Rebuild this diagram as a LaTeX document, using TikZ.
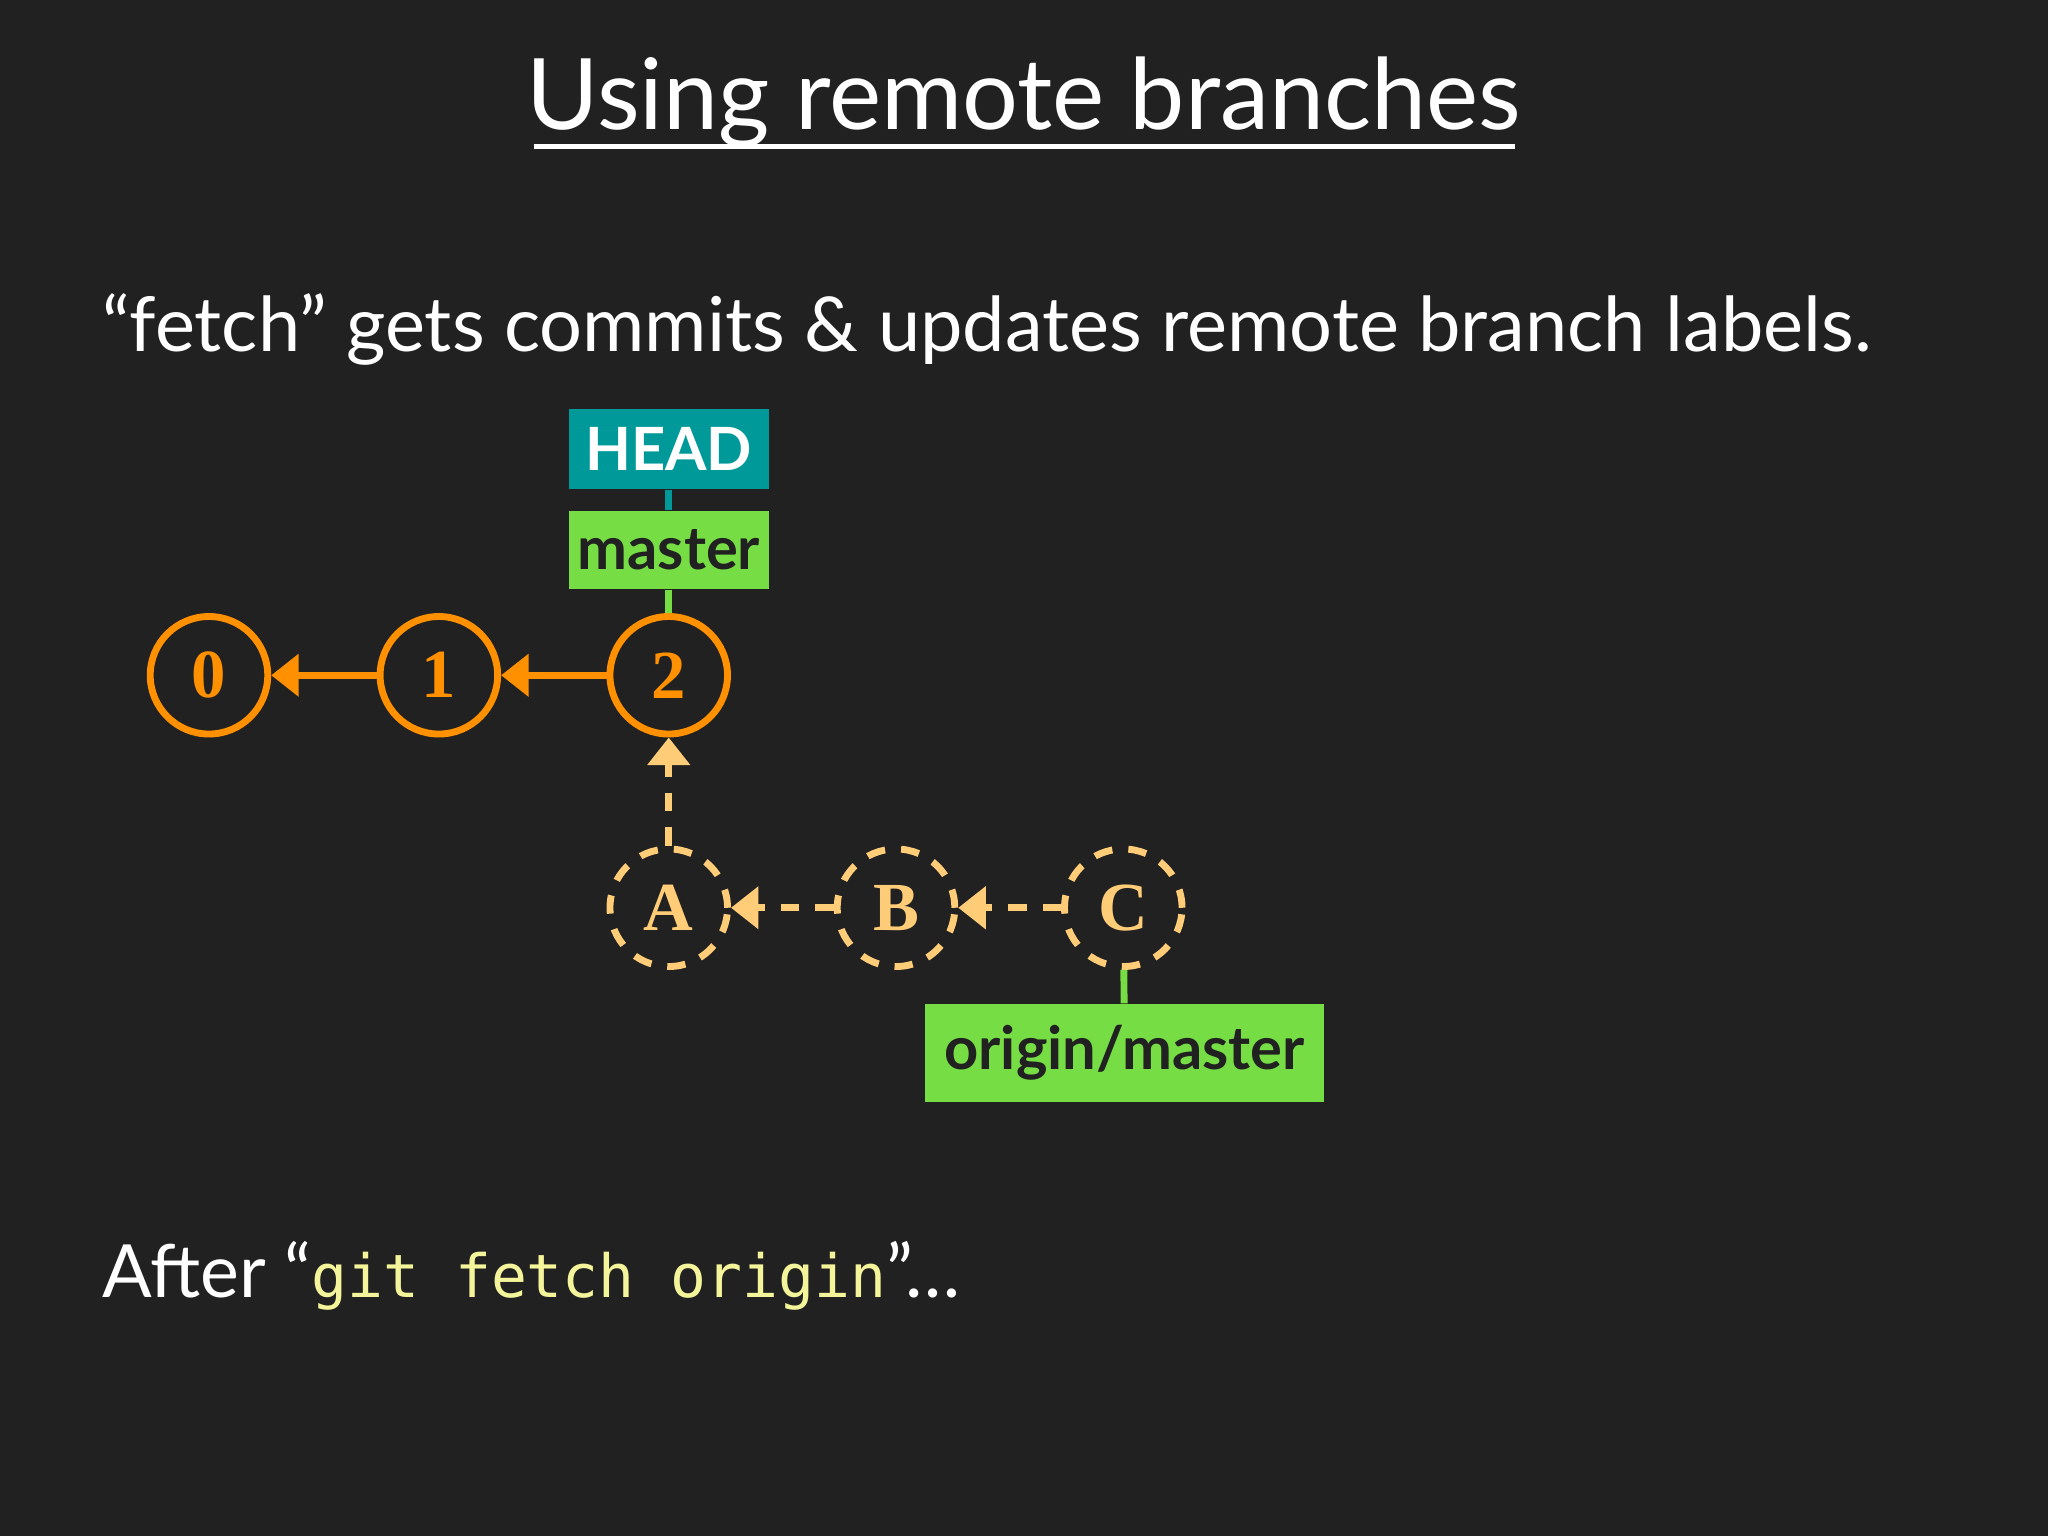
\documentclass[tikz,border=0pt]{standalone}
\usepackage{fontspec}
\setmainfont{Lato}
\newfontfamily\codefont{DejaVu Sans Mono}
\newfontfamily\numfont{Liberation Serif}
\usetikzlibrary{arrows.meta}
\definecolor{bg}{HTML}{212121}
\definecolor{commitcol}{HTML}{FF9000}
\definecolor{remotecol}{HTML}{FFCC77}
\definecolor{headcol}{HTML}{009999}
\definecolor{branchcol}{HTML}{77DD44}
\definecolor{codecol}{HTML}{F4F49A}
\tikzset{
  commit/.style={circle, draw=commitcol, line width=3pt, minimum size=1.8cm, inner sep=0pt,
    text=commitcol, font=\numfont\bfseries\fontsize{30}{30}\selectfont},
  remote/.style={commit, draw=remotecol, text=remotecol, dashed, dash pattern=on 8pt off 7pt},
  parent/.style={-{Triangle[length=12pt,width=18pt]}, line width=3pt, draw=commitcol},
  rparent/.style={parent, draw=remotecol, dash pattern=on 8pt off 7pt},
  label/.style={fill=branchcol, text=bg, font=\bfseries\fontsize{26}{26}\selectfont, inner sep=0pt},
}
\begin{document}
\begin{tikzpicture}[x=0.02cm, y=-0.02cm]
  \fill[bg] (0,0) rectangle (1568,1176);
  \node[text=white, font=\fontsize{43}{43}\selectfont] (title) at (784,78) {Using remote branches};
  \draw[white, line width=2pt] (409,112) -- (1160,112);
  \node[text=white, anchor=west, font=\fontsize{33}{33}\selectfont] (intro) at (72,252)
    {“fetch” gets commits \& updates remote branch labels.};
  % local commits
  \node[commit] (c0) at (160,517) {0};
  \node[commit] (c1) at (336,517) {1};
  \node[commit] (c2) at (512,517) {2};
  \draw[parent] (c1) -- (c0);
  \draw[parent] (c2) -- (c1);
  % fetched commits
  \node[remote] (ca) at (512,695) {A};
  \node[remote] (cb) at (686,695) {B};
  \node[remote] (cc) at (860,695) {C};
  \draw[rparent] (ca) -- (c2);
  \draw[rparent] (cb) -- (ca);
  \draw[rparent] (cc) -- (cb);
  % labels
  \node[label, minimum width=3.06cm, minimum height=1.2cm] (master) at (512,421) {master};
  \node[label, fill=headcol, text=white, minimum width=3.06cm, minimum height=1.22cm] (head) at (512,344) {HEAD};
  \node[label, minimum width=6.1cm, minimum height=1.5cm] (origin) at (861,806) {origin/master};
  \draw[headcol, line width=3pt] (head) -- (master);
  \draw[branchcol, line width=3pt] (master) -- (c2);
  \draw[branchcol, line width=3pt] (cc) -- (origin);
  \node[text=white, anchor=west, font=\fontsize{32}{32}\selectfont] (after) at (72,977)
    {After “{\codefont\fontsize{26}{26}\selectfont\color{codecol}git fetch origin}”…};
\end{tikzpicture}
\end{document}
